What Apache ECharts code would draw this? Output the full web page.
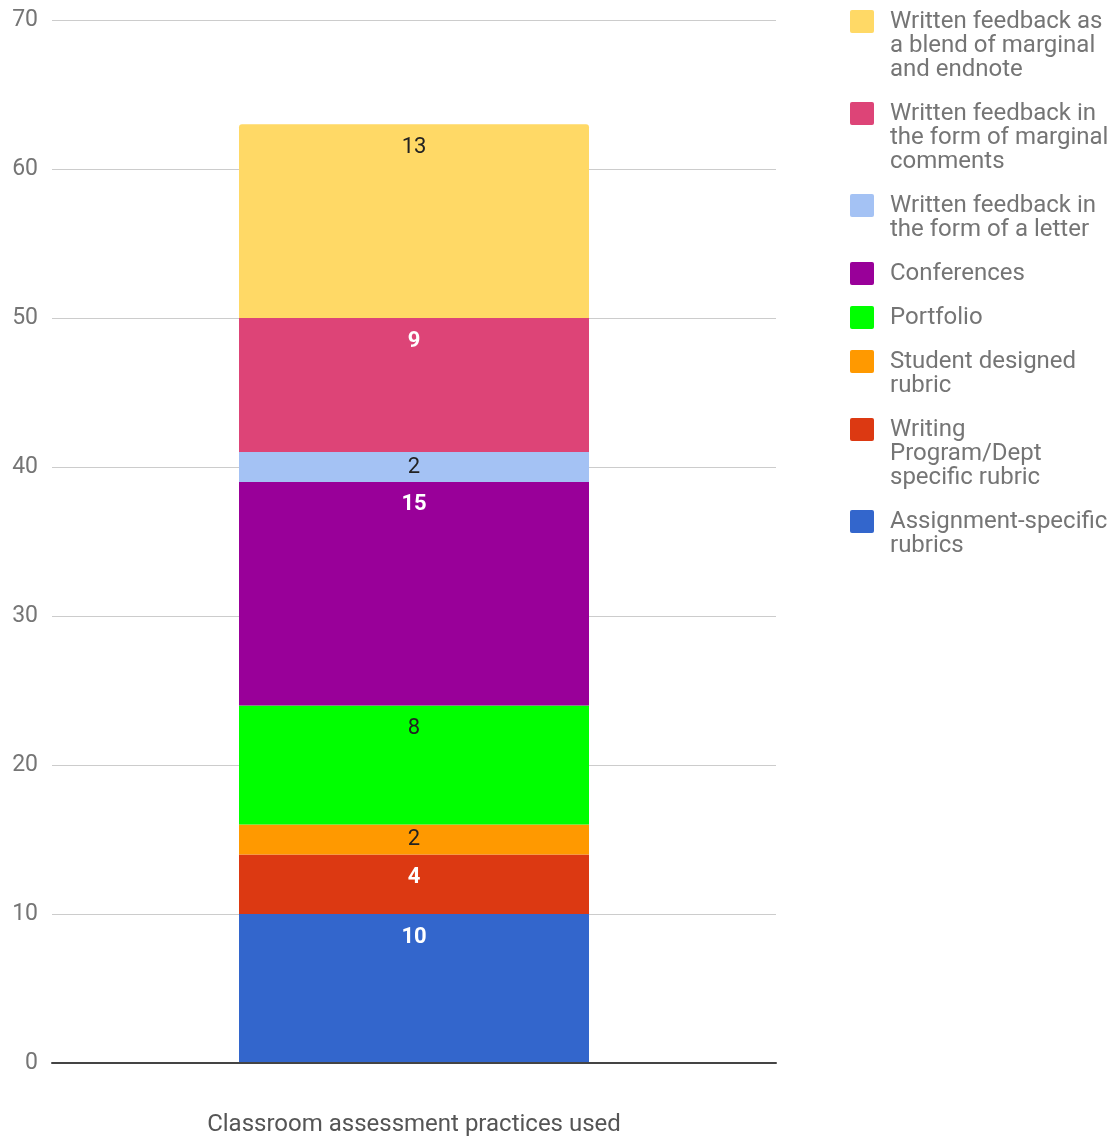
<!DOCTYPE html>
<html><head><meta charset="utf-8">
<script src="https://cdn.jsdelivr.net/npm/echarts@6/dist/echarts.min.js"></script>
<style>html,body{margin:0;padding:0;background:#fff}#c{width:1116px;height:1137px}</style>
</head><body><div id="c"></div>
<script>
const categories = ['Classroom assessment practices used'];
const seriesNames = [
  'Assignment-specific rubrics',
  'Writing Program/Dept specific rubric',
  'Student designed rubric',
  'Portfolio',
  'Conferences',
  'Written feedback in the form of a letter',
  'Written feedback in the form of marginal comments',
  'Written feedback as a blend of marginal and endnote'
];
const seriesValues = [10, 4, 2, 8, 15, 2, 9, 13];
const legendLines = [
  ['Assignment-specific', 'rubrics'],
  ['Writing', 'Program/Dept', 'specific rubric'],
  ['Student designed', 'rubric'],
  ['Portfolio'],
  ['Conferences'],
  ['Written feedback in', 'the form of a letter'],
  ['Written feedback in', 'the form of marginal', 'comments'],
  ['Written feedback as', 'a blend of marginal', 'and endnote']
];
const yMin = 0, yMax = 70, yInterval = 10;

const colors = ['#3366cc', '#dc3912', '#ff9900', '#00ff00', '#990099', '#a4c2f4', '#dd4477', '#ffd966'];
const labelColors = ['#ffffff', '#ffffff', '#222222', '#222222', '#ffffff', '#222222', '#ffffff', '#222222'];

const LH = 24;
const legends = [];
let legendTop = 10;
for (let k = seriesNames.length - 1; k >= 0; k--) {
  const n = legendLines[k].length;
  const H = n * LH;
  const icon = 'path://M0,0 M2,0 h20 a2,2 0 0 1 2,2 v19 a2,2 0 0 1 -2,2 h-20 a2,2 0 0 1 -2,-2 v-19 a2,2 0 0 1 2,-2 z M0,' + H;
  legends.push({
    data: [{ name: seriesNames[k], icon: icon }],
    orient: 'vertical',
    left: 850,
    top: legendTop,
    padding: 0,
    itemWidth: 24,
    itemHeight: H,
    selectedMode: false,
    formatter: () => legendLines[k].join('\n'),
    textStyle: { fontFamily: 'Roboto', fontSize: 24, lineHeight: LH, color: '#757575', padding: [0, 0, 0, 11] }
  });
  legendTop += H + 20;
}

const chart = echarts.init(document.getElementById('c'));
chart.setOption({
  animation: false,
  backgroundColor: '#fff',
  grid: { left: 52, right: 340, top: 20, bottom: 74, outerBoundsMode: 'none' },
  legend: legends,
  xAxis: {
    type: 'category',
    data: categories,
    z: 5,
    axisTick: { show: false },
    axisLine: { lineStyle: { color: '#444', width: 2 } },
    axisLabel: { margin: 50, fontFamily: 'Roboto', fontSize: 24, color: '#555' }
  },
  yAxis: {
    type: 'value',
    min: yMin, max: yMax, interval: yInterval,
    axisLine: { show: false },
    axisTick: { show: false },
    splitLine: { lineStyle: { color: '#cccccc', width: 1 } },
    axisLabel: { margin: 14, fontFamily: 'Roboto', fontSize: 23, color: '#757575' }
  },
  series: seriesNames.map((name, i) => ({
    name: name,
    type: 'bar',
    stack: 'total',
    data: [seriesValues[i]],
    barWidth: 350,
    itemStyle: { color: colors[i], borderRadius: i === seriesNames.length - 1 ? [3, 3, 0, 0] : 0 },
    label: {
      show: true,
      position: seriesValues[i] <= 2 ? 'inside' : 'insideTop',
      distance: 12,
      color: labelColors[i],
      textBorderWidth: 0,
      fontFamily: 'Roboto',
      fontSize: 22,
      fontWeight: labelColors[i] === '#ffffff' ? 'bold' : 'normal'
    },
    emphasis: { disabled: true }
  }))
});
</script>
</body></html>
